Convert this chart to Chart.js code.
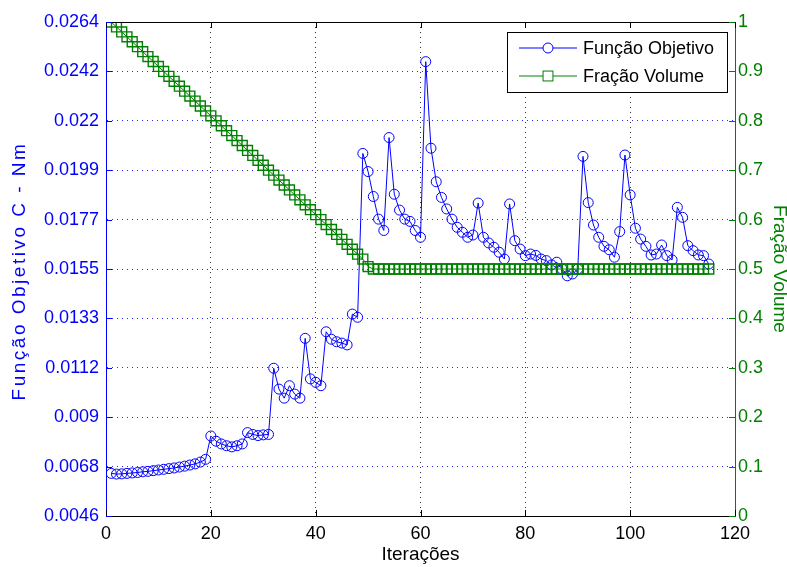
<!DOCTYPE html>
<html>
<head>
<meta charset="utf-8">
<script src="https://cdn.jsdelivr.net/npm/chart.js@4.4.1/dist/chart.umd.min.js"></script>
<style>
  html, body { margin: 0; padding: 0; background: #fff; }
  #wrap { width: 787px; height: 567px; }
</style>
</head>
<body>
<div id="wrap"><canvas id="grafico"></canvas></div>
<script>
// Dados
const iteracoes = [1, 2, 3, 4, 5, 6, 7, 8, 9, 10, 11, 12, 13, 14, 15, 16, 17, 18, 19, 20,
    21, 22, 23, 24, 25, 26, 27, 28, 29, 30, 31, 32, 33, 34, 35, 36, 37, 38, 39, 40,
    41, 42, 43, 44, 45, 46, 47, 48, 49, 50, 51, 52, 53, 54, 55, 56, 57, 58, 59, 60,
    61, 62, 63, 64, 65, 66, 67, 68, 69, 70, 71, 72, 73, 74, 75, 76, 77, 78, 79, 80,
    81, 82, 83, 84, 85, 86, 87, 88, 89, 90, 91, 92, 93, 94, 95, 96, 97, 98, 99, 100,
    101, 102, 103, 104, 105, 106, 107, 108, 109, 110, 111, 112, 113, 114, 115];

const funcaoObjetivo = [
    0.00648, 0.00645, 0.00646, 0.00648, 0.0065, 0.00652, 0.00655, 0.00657, 0.0066, 0.00663,
    0.00666, 0.00669, 0.00672, 0.00676, 0.0068, 0.00685, 0.0069, 0.00698, 0.0071, 0.00813,
    0.0079, 0.00778, 0.0077, 0.00765, 0.0077, 0.00778, 0.00828, 0.0082, 0.00815, 0.00818,
    0.0082, 0.01112, 0.0102, 0.0098, 0.01035, 0.00998, 0.0098, 0.01244, 0.01065, 0.0105,
    0.01035, 0.01273, 0.0124, 0.01229, 0.01223, 0.01215, 0.01351, 0.01337, 0.0206, 0.0198,
    0.0187, 0.0177, 0.0172, 0.0213, 0.0188, 0.0181, 0.0177, 0.0176, 0.0172, 0.0169,
    0.02465, 0.02083, 0.01935, 0.01866, 0.01815, 0.0177, 0.01734, 0.01712, 0.0169, 0.017,
    0.01841, 0.0169, 0.01665, 0.01646, 0.01624, 0.01594, 0.01837, 0.01675, 0.01638, 0.01609,
    0.01616, 0.0161, 0.01594, 0.01587, 0.01568, 0.0158, 0.0155, 0.0152, 0.01528, 0.0155,
    0.02047, 0.01843, 0.01744, 0.0169, 0.0165, 0.01635, 0.01602, 0.01715, 0.02053, 0.01877,
    0.0173, 0.01682, 0.0165, 0.01612, 0.01616, 0.01656, 0.01609, 0.0159, 0.01822, 0.01778,
    0.01653, 0.01631, 0.01612, 0.01609, 0.01572];

const fracaoVolume = [
    1, 0.99, 0.98, 0.97, 0.96, 0.95, 0.94, 0.93, 0.92, 0.91,
    0.9, 0.89, 0.88, 0.87, 0.86, 0.85, 0.84, 0.83, 0.82, 0.81,
    0.8, 0.79, 0.78, 0.77, 0.76, 0.75, 0.74, 0.73, 0.72, 0.71,
    0.7, 0.69, 0.68, 0.67, 0.66, 0.65, 0.64, 0.63, 0.62, 0.61,
    0.6, 0.59, 0.58, 0.57, 0.56, 0.55, 0.54, 0.53, 0.52, 0.505,
    0.5, 0.5, 0.5, 0.5, 0.5, 0.5, 0.5, 0.5, 0.5, 0.5,
    0.5, 0.5, 0.5, 0.5, 0.5, 0.5, 0.5, 0.5, 0.5, 0.5,
    0.5, 0.5, 0.5, 0.5, 0.5, 0.5, 0.5, 0.5, 0.5, 0.5,
    0.5, 0.5, 0.5, 0.5, 0.5, 0.5, 0.5, 0.5, 0.5, 0.5,
    0.5, 0.5, 0.5, 0.5, 0.5, 0.5, 0.5, 0.5, 0.5, 0.5,
    0.5, 0.5, 0.5, 0.5, 0.5, 0.5, 0.5, 0.5, 0.5, 0.5,
    0.5, 0.5, 0.5, 0.5, 0.5];

// Marcas dos eixos
const ticksEsquerda = [0.0046, 0.00678, 0.00896, 0.01114, 0.01332, 0.0155, 0.01768, 0.01986, 0.02204, 0.02422, 0.0264];
const rotulosEsquerda = ['0.0046', '0.0068', '0.009', '0.0112', '0.0133', '0.0155', '0.0177', '0.0199', '0.022', '0.0242', '0.0264'];
const ticksDireita = [0, 0.1, 0.2, 0.3, 0.4, 0.5, 0.6, 0.7, 0.8, 0.9, 1];
const ticksX = [0, 20, 40, 60, 80, 100, 120];
const tituloEsquerda = 'Função Objetivo C - Nm';

const AZUL = '#0000ff';
const VERDE = '#008000';
const fonte = { family: 'Liberation Sans', size: 18 };
const fonteTitulo = { family: 'Liberation Sans', size: 19, lineHeight: 1 };

// Borda de cima, marcas para dentro, título da esquerda e legenda
const molduraPlugin = {
    id: 'moldura',
    afterDraw(chart) {
        const ctx = chart.ctx;
        const a = chart.chartArea;
        const sx = chart.scales.x, sy = chart.scales.y, sy1 = chart.scales.y1;
        ctx.save();
        ctx.lineWidth = 1;
        // linha de cima
        ctx.strokeStyle = '#000';
        ctx.beginPath();
        ctx.moveTo(a.left, a.top + 0.5);
        ctx.lineTo(a.right, a.top + 0.5);
        ctx.stroke();
        // marcas x
        ticksX.forEach(v => {
            const px = Math.round(sx.getPixelForValue(v)) + 0.5;
            ctx.beginPath();
            ctx.moveTo(px, a.bottom); ctx.lineTo(px, a.bottom - 6);
            ctx.moveTo(px, a.top); ctx.lineTo(px, a.top + 6);
            ctx.stroke();
        });
        ctx.strokeStyle = AZUL;
        ticksEsquerda.forEach(v => {
            const py = Math.round(sy.getPixelForValue(v)) + 0.5;
            ctx.beginPath(); ctx.moveTo(a.left, py); ctx.lineTo(a.left + 6, py); ctx.stroke();
        });
        ctx.strokeStyle = VERDE;
        ticksDireita.forEach(v => {
            const py = Math.round(sy1.getPixelForValue(v)) + 0.5;
            ctx.beginPath(); ctx.moveTo(a.right, py); ctx.lineTo(a.right - 6, py); ctx.stroke();
        });

        // título do eixo da esquerda (mais espaçado)
        ctx.save();
        ctx.translate(20, (a.top + a.bottom) / 2 + 2);
        ctx.rotate(-Math.PI / 2);
        ctx.font = fonteTitulo.size + 'px ' + fonteTitulo.family;
        ctx.letterSpacing = '2.5px';
        ctx.fillStyle = AZUL;
        ctx.textAlign = 'center';
        ctx.textBaseline = 'middle';
        ctx.fillText(tituloEsquerda, 0, 0);
        ctx.restore();

        // legenda
        const bx = 507, by = 32, bw = 220, bh = 60;
        ctx.fillStyle = '#fff';
        ctx.fillRect(bx, by, bw, bh);
        ctx.strokeStyle = '#000';
        ctx.strokeRect(bx + 0.5, by + 0.5, bw, bh);
        ctx.font = fonte.size + 'px ' + fonte.family;
        ctx.textBaseline = 'middle';
        chart.data.datasets.forEach((ds, i) => {
            const ly = by + 16 + i * 28;
            ctx.strokeStyle = ds.borderColor;
            ctx.beginPath(); ctx.moveTo(bx + 12, ly); ctx.lineTo(bx + 70, ly); ctx.stroke();
            ctx.fillStyle = '#fff';
            if (ds.pointStyle === 'circle') {
                ctx.beginPath(); ctx.arc(bx + 41, ly, ds.pointRadius, 0, Math.PI * 2); ctx.fill(); ctx.stroke();
            } else {
                const s = ds.pointRadius * Math.SQRT1_2;
                ctx.fillRect(bx + 41 - s, ly - s, 2 * s, 2 * s);
                ctx.strokeRect(bx + 41 - s, ly - s, 2 * s, 2 * s);
            }
            ctx.fillStyle = '#000';
            ctx.fillText(ds.label, bx + 76, ly + 1);
        });
        ctx.restore();
    }
};

const ctx = document.getElementById('grafico').getContext('2d');
const grafico = new Chart(ctx, {
    type: 'line',
    data: {
        datasets: [
            {
                label: 'Função Objetivo',
                data: iteracoes.map((it, i) => ({ x: it, y: funcaoObjetivo[i] })),
                yAxisID: 'y',
                borderColor: AZUL,
                borderWidth: 1,
                pointStyle: 'circle',
                pointRadius: 5,
                pointBorderWidth: 1,
                pointBorderColor: AZUL,
                pointBackgroundColor: 'rgba(0,0,0,0)',
                tension: 0,
                fill: false,
                order: 1
            },
            {
                label: 'Fração Volume',
                data: iteracoes.map((it, i) => ({ x: it, y: fracaoVolume[i] })),
                yAxisID: 'y1',
                borderColor: VERDE,
                borderWidth: 1,
                pointStyle: 'rect',
                pointRadius: 7,
                pointBorderWidth: 1.4,
                pointBorderColor: VERDE,
                pointBackgroundColor: 'rgba(0,0,0,0)',
                tension: 0,
                fill: false,
                order: 0
            }
        ]
    },
    options: {
        responsive: true,
        maintainAspectRatio: false,
        animation: false,
        layout: { padding: { left: 0, right: 0, top: 22, bottom: 0 } },
        plugins: {
            legend: { display: false },
            tooltip: { enabled: false }
        },
        scales: {
            x: {
                type: 'linear',
                min: 0,
                max: 120,
                afterBuildTicks: s => { s.ticks = ticksX.map(v => ({ value: v })); },
                afterFit: s => { s.height = 51; },
                ticks: { color: '#000', font: fonte, padding: 7, maxRotation: 0 },
                grid: { color: '#333', drawTicks: false, lineWidth: 1 },
                border: { color: '#000', dash: [1, 4] },
                title: { display: true, text: 'Iterações', color: '#000', font: fonteTitulo, padding: { top: 0, bottom: 3 } }
            },
            y: {
                type: 'linear',
                position: 'left',
                min: 0.0046,
                max: 0.0264,
                afterBuildTicks: s => { s.ticks = ticksEsquerda.map(v => ({ value: v })); },
                afterFit: s => { s.width = 106; },
                ticks: {
                    color: AZUL,
                    font: fonte,
                    padding: 7,
                    callback: (v, i) => rotulosEsquerda[i]
                },
                grid: { color: 'rgba(0,0,255,0.85)', drawTicks: false, lineWidth: 1 },
                border: { color: AZUL, dash: [1, 4] },
                title: { display: false }
            },
            y1: {
                type: 'linear',
                position: 'right',
                min: 0,
                max: 1,
                afterBuildTicks: s => { s.ticks = ticksDireita.map(v => ({ value: v })); },
                afterFit: s => { s.width = 52; },
                ticks: { color: VERDE, font: fonte, padding: 3, callback: v => String(v) },
                grid: { drawOnChartArea: false, drawTicks: false },
                border: { color: VERDE },
                title: { display: true, text: 'Fração Volume', color: VERDE, font: fonteTitulo, padding: { top: -2, bottom: 0 } }
            }
        }
    },
    plugins: [molduraPlugin]
});
</script>
</body>
</html>
